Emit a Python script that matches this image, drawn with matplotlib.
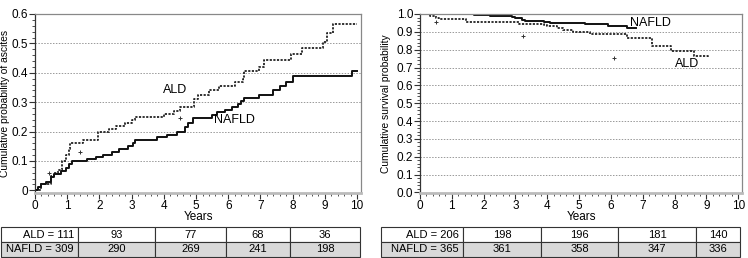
import numpy as np
import matplotlib
matplotlib.use('Agg')
import matplotlib.pyplot as plt
from matplotlib.patches import Rectangle

plt.rcParams['font.family'] = ['Liberation Sans', 'DejaVu Sans']
plt.rcParams['font.size'] = 8.5

# panel A: cumulative probability of ascites (step functions)
a_ald_t = [0, 0.2, 0.5, 0.6, 0.7, 0.85, 0.95, 1.05, 1.1, 1.5, 1.95, 2.3, 2.5, 2.8, 3.0, 3.1,
           4.0, 4.3, 4.5, 4.95, 5.05, 5.4, 5.7, 6.2, 6.45, 6.5, 6.95, 7.1, 7.95, 8.3, 8.95,
           9.05, 9.25, 10.0]
a_ald_p = [0, 0.02, 0.05, 0.06, 0.07, 0.1, 0.12, 0.14, 0.16, 0.17, 0.2, 0.21, 0.22, 0.23, 0.24,
           0.25, 0.26, 0.27, 0.285, 0.31, 0.325, 0.34, 0.355, 0.37, 0.38, 0.405, 0.42, 0.445,
           0.465, 0.485, 0.505, 0.535, 0.565, 0.565]
a_naf_t = [0, 0.1, 0.2, 0.35, 0.5, 0.6, 0.8, 0.95, 1.05, 1.15, 1.6, 1.9, 2.1, 2.4, 2.6, 2.9,
           3.05, 3.1, 3.8, 4.1, 4.4, 4.65, 4.75, 4.9, 5.5, 5.65, 5.9, 6.1, 6.3, 6.4, 6.5, 6.95,
           7.4, 7.6, 7.8, 8.0, 9.85, 10.0]
a_naf_p = [0, 0.01, 0.02, 0.03, 0.045, 0.055, 0.065, 0.075, 0.09, 0.1, 0.105, 0.115, 0.12, 0.13,
           0.14, 0.15, 0.16, 0.17, 0.18, 0.19, 0.2, 0.215, 0.23, 0.245, 0.255, 0.265, 0.275,
           0.285, 0.295, 0.305, 0.315, 0.325, 0.34, 0.355, 0.37, 0.39, 0.405, 0.405]
a_cens_t = [0.45, 1.4, 4.5]
a_cens_p = [0.06, 0.13, 0.245]

# panel B: cumulative survival probability
b_ald_t = [0, 0.3, 0.5, 0.6, 1.45, 3.1, 3.9, 4.0, 4.3, 4.5, 4.8, 5.35, 6.5, 7.3, 7.9, 8.6, 9.05]
b_ald_p = [1.0, 0.99, 0.98, 0.97, 0.955, 0.945, 0.94, 0.93, 0.92, 0.91, 0.9, 0.89, 0.865, 0.82,
           0.795, 0.765, 0.76]
b_naf_t = [0, 1.7, 2.2, 2.9, 3.0, 3.2, 3.3, 3.9, 4.1, 5.2, 5.9, 6.5, 6.8]
b_naf_p = [1.0, 0.995, 0.99, 0.985, 0.975, 0.965, 0.96, 0.955, 0.95, 0.945, 0.935, 0.92, 0.92]
b_cens_t = [0.5, 3.25, 6.1]
b_cens_p = [0.955, 0.875, 0.755]

# numbers at risk
a_rows = [['ALD = 111', '93', '77', '68', '36'],
          ['NAFLD = 309', '290', '269', '241', '198']]
b_rows = [['ALD = 206', '198', '196', '181', '140'],
          ['NAFLD = 365', '361', '358', '347', '336']]

W, H = 748, 258
fig = plt.figure(figsize=(W / 100, H / 100), dpi=100)


def px_axes(l, t, r, b):
    return fig.add_axes([l / W, (H - b) / H, (r - l) / W, (b - t) / H])


def style_km(ax, ylim, yticks, yfmt, ylabel, ymin_step, label_x):
    ax.set_xlim(0, 10.12)
    ax.set_ylim(*ylim)
    ax.set_xticks(range(11))
    ax.set_xticks(np.arange(0, 10.01, 0.2), minor=True)
    ax.set_yticks(yticks)
    ax.set_yticklabels([yfmt(v) for v in yticks])
    ax.set_yticks(np.arange(0, ylim[1] + 1e-9, ymin_step), minor=True)
    for v in yticks[1:-1]:
        ax.axhline(v, color='#999999', lw=0.7, ls=(0, (1.5, 1.5)), zorder=0)
    for s in ax.spines.values():
        s.set_color('#888888')
        s.set_linewidth(0.9)
    ax.spines['left'].set_color('#333333')
    ax.spines['bottom'].set_color('#bbbbbb')
    ax.spines['bottom'].set_linewidth(2)
    ax.tick_params(axis='both', which='major', length=4, width=0.8, pad=1, color='#333333')
    ax.tick_params(axis='both', which='minor', length=2.5, width=0.6, color='#333333')
    ax.set_xlabel('Years', labelpad=-1)
    ax.set_ylabel(ylabel, fontsize=7.4)
    ax.yaxis.set_label_coords(label_x, 0.5)


axA = px_axes(35, 14, 361, 193)
axA.step(a_ald_t, a_ald_p, where='post', color='#222222', lw=1.3, ls=(0, (1.2, 0.8)))
axA.step(a_naf_t, a_naf_p, where='post', color='#111111', lw=1.4)
axA.plot(a_cens_t, a_cens_p, '+', color='#333333', ms=3, mew=0.7)
style_km(axA, (-0.009, 0.6), [0, 0.1, 0.2, 0.3, 0.4, 0.5, 0.6],
         lambda v: '0' if v == 0 else f'{v:.1f}', 'Cumulative probability of ascites', 0.02,
         -0.078)
axA.text(4.35, 0.34, 'ALD', ha='center', va='center', fontsize=9)
axA.text(6.2, 0.24, 'NAFLD', ha='center', va='center', fontsize=9)

axB = px_axes(420, 14, 742, 193)
axB.step(b_ald_t, b_ald_p, where='post', color='#222222', lw=1.3, ls=(0, (1.2, 0.8)))
axB.step(b_naf_t, b_naf_p, where='post', color='#111111', lw=1.4)
axB.plot(b_cens_t, b_cens_p, '+', color='#333333', ms=3, mew=0.7)
style_km(axB, (-0.003, 1.0), [round(0.1 * i, 1) for i in range(11)],
         lambda v: f'{v:.1f}', 'Cumulative survival probability', 0.02, -0.09)
axB.text(6.6, 0.95, 'NAFLD', ha='left', va='center', fontsize=9)
axB.text(8.4, 0.72, 'ALD', ha='center', va='center', fontsize=9)

# at-risk tables drawn in pixel space
tab = fig.add_axes([0, 0, 1, 1])
tab.set_xlim(0, W)
tab.set_ylim(H, 0)
tab.axis('off')


def draw_table(rows, edges, top, rh):
    for i, row in enumerate(rows):
        y0 = top + i * rh
        fc = 'white' if i == 0 else '#d9d9d9'
        for j, txt in enumerate(row):
            x0, x1 = edges[j], edges[j + 1]
            tab.add_patch(Rectangle((x0, y0), x1 - x0, rh, fc=fc, ec='#333333', lw=0.8))
            if j == 0:
                tab.text(x1 - 4, y0 + rh / 2, txt, ha='right', va='center', fontsize=8)
            else:
                tab.text((x0 + x1) / 2, y0 + rh / 2, txt, ha='center', va='center', fontsize=8)


draw_table(a_rows, [1, 78, 155, 226, 290, 360], 227, 15)
draw_table(b_rows, [381, 463, 541, 618, 696, 740], 227, 15)

fig.savefig('out.png', dpi=100)
